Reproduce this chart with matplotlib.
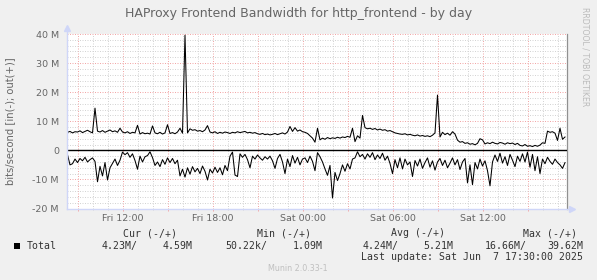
import numpy as np
import pandas as pd
import matplotlib
matplotlib.use('Agg')
import matplotlib.pyplot as plt
import matplotlib.dates as mdates
from matplotlib.ticker import MultipleLocator, FuncFormatter
from matplotlib.patches import Rectangle

W, H = 597, 280

# === Data: HAProxy frontend bandwidth, Mbit/s, 10 minute steps ===
start_time = '2025-06-06 08:20'

out_mbps = [
    6.2, 6.5, 6.0, 6.4, 6.3, 6.7, 6.1, 6.5, 6.9, 6.4,
    6.0, 14.5, 6.6, 6.3, 6.8, 6.2, 6.6, 7.0, 6.4, 6.7,
    6.2, 7.6, 6.3, 6.0, 6.4, 5.8, 6.2, 6.0, 8.6, 5.6,
    6.1, 5.7, 5.9, 5.6, 8.4, 6.0, 5.7, 6.2, 5.6, 6.0,
    8.8, 5.8, 6.1, 5.7, 6.3, 7.6, 5.9, 39.6, 6.0, 7.4,
    6.9, 7.1, 6.6, 6.8, 6.4, 7.0, 8.5, 6.3, 6.0, 6.4,
    5.8, 6.2, 5.9, 6.3, 6.1, 5.8, 6.2, 6.0, 6.4, 6.1,
    6.3, 6.5, 6.0, 6.2, 5.9, 6.1, 5.7, 5.5, 5.8, 5.4,
    5.6, 5.3, 5.5, 5.8, 5.4, 5.7, 6.0, 5.6, 6.3, 8.2,
    6.5, 7.8, 6.6, 7.0, 6.4, 6.2, 5.8, 5.0, 4.2, 2.8,
    7.6, 3.6, 4.2, 3.8, 4.4, 4.0, 4.3, 4.1, 4.5, 4.2,
    4.6, 4.4, 4.8, 4.5, 7.6, 3.0, 5.0, 4.2, 12.0, 7.8,
    7.4, 7.6, 7.2, 7.5, 7.0, 7.3, 6.9, 7.1, 6.6, 6.8,
    6.4, 6.0, 5.8, 5.6, 5.5, 5.7, 5.3, 5.5, 5.2, 5.0,
    5.3, 4.9, 5.1, 4.8, 5.0, 4.7, 5.2, 6.0, 19.0, 4.6,
    6.2, 5.4, 5.9, 5.2, 6.4, 5.6, 3.5, 2.8, 3.0, 2.4,
    2.6, 2.1, 2.3, 1.9, 2.4, 4.0, 3.6, 2.2, 2.6, 2.3,
    2.8, 2.4, 2.2, 2.7, 2.5, 2.1, 2.6, 2.3, 2.5, 2.0,
    2.4, 1.7, 1.5, 2.0, 1.4, 1.6, 1.3, 1.7, 1.4, 1.8,
    2.6, 2.4, 6.6, 6.2, 6.4, 5.9, 3.4, 7.6, 3.8, 4.59,
]

in_mbps = [
    1.5, 5.0, 4.6, 3.0, 4.2, 2.8, 3.6, 2.4, 4.0, 3.2, 2.6, 3.8,
    10.8, 5.5, 8.8, 4.2, 10.2, 6.0,
    4.5, 3.0, 5.2, 3.4, 0.6,
    1.5, 0.8, 2.4, 1.2, 3.5, 6.5, 2.0, 4.0, 2.2, 1.8, 0.5,
    2.5, 5.2, 4.0, 5.6, 3.2, 4.8, 2.6,
    4.2, 2.8, 4.6, 3.4, 8.8, 6.5, 9.2,
    6.0, 8.2, 5.6, 7.4, 6.2, 8.0, 5.4, 7.2, 10.2, 6.5, 7.8,
    5.8, 7.6, 6.0, 8.4, 5.2, 7.0,
    2.0, 0.6, 8.5, 9.0, 1.2,
    2.4, 1.4, 3.2, 6.0, 2.0, 3.0, 1.6,
    2.6, 3.4, 2.2, 3.0, 2.0, 3.6, 6.2, 2.8,
    1.4, 4.0, 8.0, 3.0, 5.6, 1.8, 4.4, 2.4, 5.0, 3.0,
    2.6, 4.2, 2.0, 3.8, 7.0, 0.8,
    2.2, 4.0, 6.4, 8.6, 5.2, 16.4, 7.6, 10.4, 8.0, 5.0, 7.2, 4.6,
    6.4, 3.0, 2.6, 0.5, 2.2, 1.4,
    3.0, 1.2, 2.4, 0.8, 3.2, 1.6, 2.8, 1.0, 3.4, 2.0,
    4.5, 8.0, 3.2, 6.0,
    2.6, 6.4, 3.0, 5.0, 4.0, 9.0, 3.5,
    5.4, 3.0, 6.2, 4.2, 2.6, 5.8, 3.6, 6.8, 4.0, 2.8,
    5.2, 3.4, 6.0, 4.4, 2.6, 5.0, 3.2, 6.6, 4.0, 2.8,
    11.2, 5.0, 11.8, 4.2, 6.4, 3.0, 5.4, 3.6,
    7.0, 12.2, 4.0,
    1.6, 3.8, 1.0, 4.4, 2.2, 5.2, 1.4, 3.4, 5.6, 2.0, 3.8, 1.2, 4.0,
    0.6, 5.8, 1.4, 7.0, 2.2, 8.0,
    3.0, 4.6, 2.4, 3.8, 4.8, 3.0, 4.2, 5.0, 6.2, 4.23,
]

title = 'HAProxy Frontend Bandwidth for http_frontend - by day'
y_label = 'bits/second [in(-); out(+)]'
legend_name = 'Total'
legend_headers = ['Cur (-/+)', 'Min (-/+)', 'Avg (-/+)', 'Max (-/+)']
legend_values = ['4.23M/', '4.59M', '50.22k/', '1.09M',
                 '4.24M/', '5.21M', '16.66M/', '39.62M']
last_update = 'Last update: Sat Jun  7 17:30:00 2025'

# === Colours (munin defaults) ===
FONT = '#666666'
AXIS = '#CFD6F8'
GRID = '#D4D4D4'
MGRID = '#F2A8A8'

times = pd.date_range(start_time, periods=len(out_mbps), freq='10min')
out_bps = np.array(out_mbps) * 1e6
in_bps = np.array(in_mbps[:len(out_mbps)]) * 1e6


def px_text(x, y, s, **kw):
    # place text using figure pixel coordinates (origin top-left)
    fig.text(x / W, 1 - y / H, s, **kw)


fig = plt.figure(figsize=(W / 100, H / 100), dpi=100, facecolor='#F0F0F0')
left, right, top, bottom = 66.5, 566.5, 34, 208.5
ax = fig.add_axes([left / W, 1 - bottom / H, (right - left) / W, (bottom - top) / H])
ax.set_facecolor('white')

ax.plot(times, out_bps, color='black', lw=0.75, zorder=3)
ax.plot(times, -in_bps, color='black', lw=0.75, zorder=3)
ax.axhline(0, color='black', lw=1.0, zorder=4)

ax.set_xlim(pd.Timestamp('2025-06-06 08:16'), pd.Timestamp('2025-06-07 17:36'))
ax.set_ylim(-20e6, 40e6)

# grid
ax.xaxis.set_major_locator(mdates.HourLocator(byhour=range(0, 24, 3)))
ax.xaxis.set_minor_locator(mdates.HourLocator())


def xfmt(v, pos):
    d = mdates.num2date(v)
    return d.strftime('%a %H:%M') if d.hour % 6 == 0 else ''


ax.xaxis.set_major_formatter(FuncFormatter(xfmt))
ax.yaxis.set_major_locator(MultipleLocator(10e6))
ax.yaxis.set_minor_locator(MultipleLocator(2e6))
ax.yaxis.set_major_formatter(FuncFormatter(
    lambda v, p: '0' if abs(v) < 1 else f'{int(round(v / 1e6))} M'))

ax.set_axisbelow(True)
ax.grid(which='minor', color=GRID, linestyle=(0, (1, 1.5)), lw=0.72)
ax.grid(which='major', color=MGRID, linestyle=(0, (1, 1.5)), lw=0.72)

ax.tick_params(axis='y', which='both', length=0, pad=5.4, labelsize=6.8, labelcolor=FONT)
ax.tick_params(axis='x', which='major', length=1.5, width=0.72, color=MGRID,
               pad=2.5, labelsize=6.8, labelcolor=FONT)
ax.tick_params(axis='x', which='minor', length=1.0, width=0.72, color=GRID)

for s in ['left', 'bottom', 'top']:
    ax.spines[s].set_visible(False)
ax.spines['right'].set_color('#909090')
ax.spines['right'].set_linewidth(0.9)

# axes with arrows
ax.plot([0, 0], [0, 1 + 6 / 174.5], color=AXIS, lw=1.0, transform=ax.transAxes,
        clip_on=False, zorder=5)
ax.plot([0], [1 + 6 / 174.5], marker='^', ms=4.5, color=AXIS, mec=AXIS,
        transform=ax.transAxes, clip_on=False, zorder=5)
ax.plot([0, 1 + 5 / 500], [0, 0], color=AXIS, lw=1.0, transform=ax.transAxes,
        clip_on=False, zorder=5)
ax.plot([1 + 5 / 500], [0], marker='>', ms=4.5, color=AXIS, mec=AXIS,
        transform=ax.transAxes, clip_on=False, zorder=5)

# texts
px_text(298.5, 13, title, ha='center', va='center', fontsize=9, color=FONT)
px_text(10, 121, y_label, ha='center', va='center', rotation=90, fontsize=7.2, color=FONT)
px_text(585.5, 56.5, 'RRDTOOL / TOBI OETIKER', ha='center', va='center', rotation=270,
        fontsize=5.6, color='#BBBBBB')

mono = dict(family='DejaVu Sans Mono', fontsize=7.1, color='#333333', va='center')
for x, s in zip([123, 257, 391, 523], legend_headers):
    px_text(x, 233.5, s, ha='left', **mono)
px_text(27, 246, legend_name, ha='left', **mono)
for x, s in zip([102, 163, 225, 293, 363, 423, 485, 547], legend_values):
    px_text(x, 246, s, ha='left', **mono)
px_text(583, 257.3, last_update, ha='right', **mono)
fig.patches.append(Rectangle((14 / W, 1 - 249 / H), 6 / W, 6 / H, transform=fig.transFigure,
                             facecolor='black', edgecolor='none'))
px_text(298, 268.7, 'Munin 2.0.33-1', ha='center', va='center', fontsize=5.8, color='#C0C0C0')

fig.savefig('out.png', dpi=100, facecolor=fig.get_facecolor())
